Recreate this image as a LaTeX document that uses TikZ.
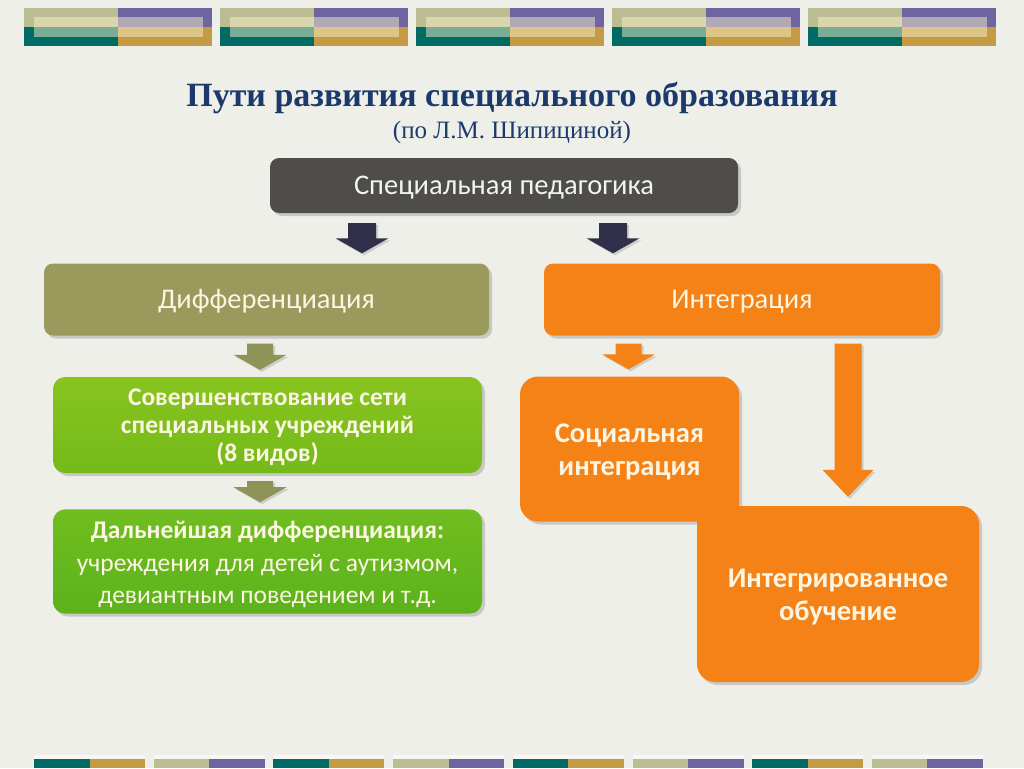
\documentclass[tikz,border=0pt]{standalone}
\usepackage{fontspec}
\setmainfont{Liberation Serif}
\newfontfamily\calfont{Carlito}
\usetikzlibrary{shadows,calc}
\definecolor{bg}{HTML}{EFEFEA}
\definecolor{bKhaki}{HTML}{BDBD94}
\definecolor{bPurple}{HTML}{6E64A0}
\definecolor{bTeal}{HTML}{006B64}
\definecolor{bGold}{HTML}{C49A45}
\definecolor{bLight}{HTML}{F5F0C8}
\definecolor{navy}{HTML}{1B3A6B}
\definecolor{darkbox}{HTML}{4F4D4B}
\definecolor{darkarrow}{HTML}{30304A}
\definecolor{olive}{HTML}{9A9A5C}
\definecolor{olivearrow}{HTML}{8E9457}
\definecolor{orange}{HTML}{F58216}
\definecolor{greenA}{HTML}{88C41E}
\definecolor{greenB}{HTML}{74BA1A}
\definecolor{greenC}{HTML}{70BE20}
\definecolor{greenD}{HTML}{5CB21C}
\definecolor{cream}{HTML}{FBF5E2}
\definecolor{paletxt}{HTML}{F3F3F0}
\tikzset{
  box/.style={rounded corners=9pt, align=center, font=\calfont, text=cream,
    drop shadow={shadow xshift=3pt, shadow yshift=-3pt, opacity=0.35}},
  arrowshade/.style={drop shadow={shadow xshift=2pt, shadow yshift=-2pt, opacity=0.3}}
}
% text lowered by 3pt inside its node, box size kept
\newcommand\lowtext[1]{\raisebox{-3pt}[\height][\depth]{\begin{tabular}{@{}c@{}}#1\end{tabular}}}
% #1 style, #2 start, #3 tip, #4 shaft half, #5 head half, #6 head length
\newcommand\fatarrow[6]{%
  \fill[#1] let \p1=#2, \p2=#3 in
    (\x1-#4,\y1) -- (\x1+#4,\y1) -- (\x1+#4,\y2+#6) -- (\x1+#5,\y2+#6)
    -- (\x1,\y2) -- (\x1-#5,\y2+#6) -- (\x1-#4,\y2+#6) -- cycle;}
\begin{document}
\begin{tikzpicture}[x=1pt,y=-1pt]
\fill[bg] (0,0) rectangle (1024,768);
\useasboundingbox (0,0) rectangle (1024,768);
% top band
\foreach \x in {24,220,416,612,808} {
  \fill[bKhaki] (\x,8) rectangle ++(94,19.5);
  \fill[bPurple] (\x+94,8) rectangle ++(94,19.5);
  \fill[bTeal] (\x,27.5) rectangle ++(94,18.5);
  \fill[bGold] (\x+94,27.5) rectangle ++(94,18.5);
  \fill[bLight,opacity=0.5] (\x+10,17.5) rectangle ++(169,19.5);
}
% bottom band
\foreach \i in {0,...,7} {
  \pgfmathsetmacro\bx{34+119.7*\i}
  \ifodd\i
    \def\ca{bKhaki}\def\cb{bPurple}
  \else
    \def\ca{bTeal}\def\cb{bGold}
  \fi
  \fill[white,opacity=0.45] (\bx,755) rectangle ++(111,4);
  \fill[\ca] (\bx,759) rectangle ++(55.5,9);
  \fill[\cb] (\bx+55.5,759) rectangle ++(55.5,9);
}
% title
\node[anchor=base, text=navy, font=\fontsize{34}{40}\selectfont\bfseries] (title) at (512,106) {Пути развития специального образования};
\node[anchor=base, text=navy, font=\fontsize{25}{28}\selectfont] (subtitle) at (512,138) {(по Л.М. Шипициной)};
% boxes
\node[box, fill=darkbox, text=paletxt, minimum width=468pt, minimum height=55pt, font=\calfont\fontsize{28.5}{32}\selectfont] (ped) at (504,185.5) {\lowtext{Специальная педагогика}};
\node[box, fill=olive, minimum width=445pt, minimum height=72pt, font=\calfont\fontsize{28.5}{32}\selectfont] (diff) at (266.5,299.5) {\lowtext{Дифференциация}};
\node[box, fill=orange, minimum width=396pt, minimum height=72pt, font=\calfont\fontsize{28.5}{32}\selectfont] (integ) at (742,299.5) {\lowtext{Интеграция}};
\node[box, rounded corners=12pt, top color=greenA, bottom color=greenB, minimum width=429pt, minimum height=96pt, font=\calfont\bfseries\fontsize{25.5}{28}\selectfont] (sov) at (267.5,425) {\lowtext{Совершенствование сети\\специальных учреждений\\(8 видов)}};
\node[box, rounded corners=12pt, top color=greenC, bottom color=greenD, minimum width=429pt, minimum height=97pt, font=\calfont\fontsize{25.5}{32.5}\selectfont] (dal) at (267.5,561.5) {\lowtext{\textbf{Дальнейшая дифференциация:}\\учреждения для детей с аутизмом,\\девиантным поведением и т.д.}};
\node[box, rounded corners=18pt, fill=orange, minimum width=219pt, minimum height=145pt, font=\calfont\bfseries\fontsize{28.5}{33}\selectfont] (soc) at (629.5,449) {\lowtext{Социальная\\интеграция}};
\node[box, rounded corners=18pt, fill=orange, minimum width=282pt, minimum height=176pt, font=\calfont\bfseries\fontsize{28.5}{33}\selectfont] (intob) at (838,594) {\lowtext{Интегрированное\\обучение}};
% arrow axes
\coordinate (ax1) at (362,0);
\coordinate (ax2) at (613,0);
\coordinate (ax3) at (260,0);
\coordinate (ax4) at (628.5,0);
\coordinate (ax5) at (848,0);
% arrows
\fatarrow{darkarrow,arrowshade}{($(ped.south -| ax1)+(0,10)$)}{($(diff.north -| ax1)+(0,-10)$)}{14pt}{26.5pt}{15pt}
\fatarrow{darkarrow,arrowshade}{($(ped.south -| ax2)+(0,10)$)}{($(integ.north -| ax2)+(0,-10)$)}{14pt}{26.5pt}{15pt}
\fatarrow{olivearrow,arrowshade}{($(diff.south -| ax3)+(0,8)$)}{($(sov.north -| ax3)+(0,-7)$)}{13pt}{26.5pt}{15pt}
\fatarrow{olivearrow,arrowshade}{($(sov.south -| ax3)+(0,8)$)}{($(dal.north -| ax3)+(0,-7)$)}{13pt}{26.5pt}{15pt}
\fatarrow{orange,arrowshade}{($(integ.south -| ax4)+(0,8)$)}{($(soc.north -| ax4)+(0,-7)$)}{13pt}{26.5pt}{15pt}
\fatarrow{orange,arrowshade}{($(integ.south -| ax5)+(0,8)$)}{($(intob.north -| ax5)+(0,-9)$)}{13.5pt}{25.5pt}{27pt}
\end{tikzpicture}
\end{document}
